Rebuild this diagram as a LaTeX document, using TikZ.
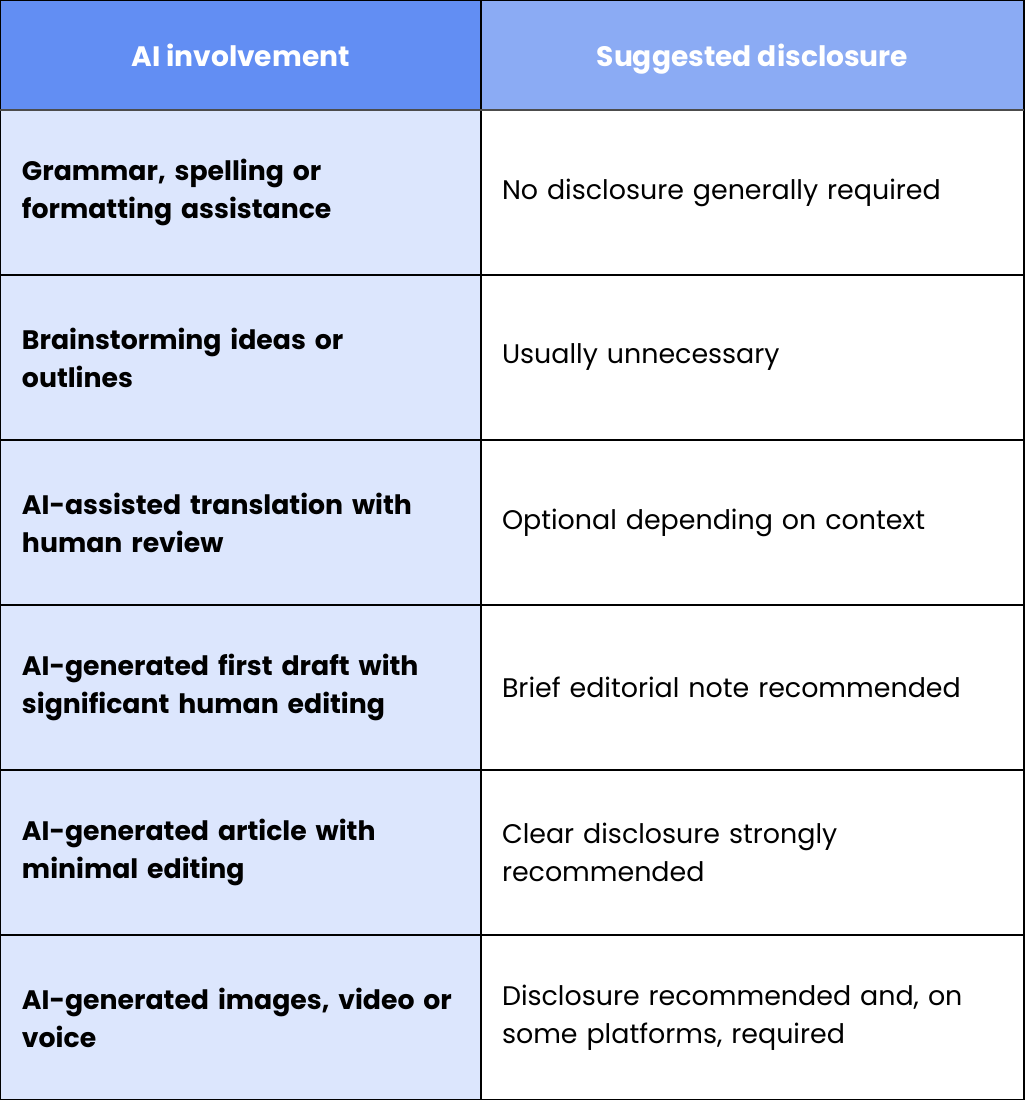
\documentclass[tikz,border=0pt]{standalone}
\usepackage{xcolor}
\usepackage{fontspec}
\setmainfont{Poppins}
\usetikzlibrary{positioning}
\definecolor{headleft}{HTML}{628EF3}
\definecolor{headright}{HTML}{8BABF4}
\definecolor{paleblue}{HTML}{DCE6FD}

\begin{document}
\begin{tikzpicture}[node distance=0cm,
                    cell/.style={draw=black,line width=0.4pt,outer sep=0pt,inner ysep=0pt,
                      font=\fontsize{7.65pt}{10.8pt}\selectfont},
                    head node/.style={cell,fill=#1,minimum height=1.10cm,text=white,
                      text height=0.84em,text depth=0.16em,
                      font=\fontsize{8pt}{10.8pt}\selectfont\bfseries},
                    left node/.style={cell,fill=paleblue,minimum height=1.65cm,inner xsep=0.22cm,
                      text width=4.37cm,align=left,font=\fontsize{7.6pt}{10.8pt}\selectfont\bfseries},
                    right node/.style={cell,fill=white,minimum height=1.65cm,inner xsep=0.21cm,
                      text width=5.01cm,align=left}]

  \useasboundingbox (0,0) rectangle (10.24,-11);

  \node[head node=headleft,minimum width=4.81cm,anchor=north west] (h1) at (0,0) {AI involvement};
  \node[head node=headright,minimum width=5.43cm] (h2) [right=of h1] {Suggested disclosure};

  \node[left node] (l1) [below=of h1] {Grammar, spelling or\\formatting assistance};
  \node[right node] (r1) [right=of l1] {No disclosure generally required};
  \node[left node] (l2) [below=of l1] {Brainstorming ideas or\\outlines};
  \node[right node] (r2) [right=of l2] {Usually unnecessary};
  \node[left node] (l3) [below=of l2] {AI-assisted translation with\\human review};
  \node[right node] (r3) [right=of l3] {Optional depending on context};
  \node[left node] (l4) [below=of l3] {AI-generated first draft with\\significant human editing};
  \node[right node] (r4) [right=of l4] {Brief editorial note recommended};
  \node[left node] (l5) [below=of l4] {AI-generated article with\\minimal editing};
  \node[right node] (r5) [right=of l5] {Clear disclosure strongly\\recommended};
  \node[left node] (l6) [below=of l5] {AI-generated images, video or\\voice};
  \node[right node] (r6) [right=of l6] {Disclosure recommended and, on\\some platforms, required};

  \draw[line width=0.8pt,black!70] (h1.south west) -- (h2.south east);
\end{tikzpicture}
\end{document}
